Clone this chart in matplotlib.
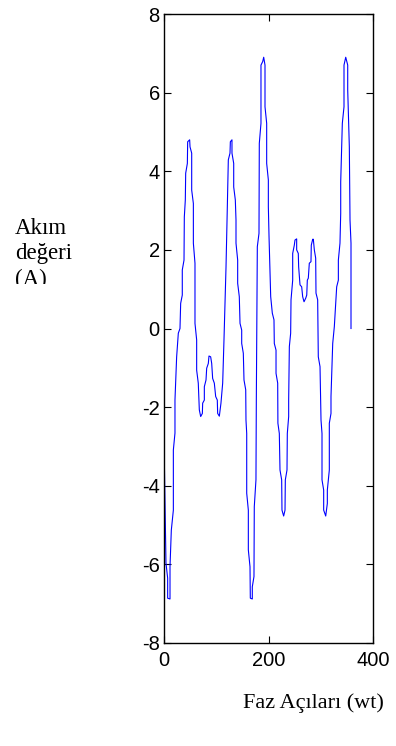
import matplotlib
matplotlib.use("Agg")
import matplotlib.pyplot as plt
from matplotlib.transforms import Bbox

plt.rcParams["axes.unicode_minus"] = False

# Phase angle (degrees) and current (A) samples of the waveform
phase = [
    0.0, 0.6, 3.8, 7.0, 7.0, 11.5, 11.5, 14.0, 17.9, 17.9, 21.0, 21.0, 24.2, 27.4, 30.6,
    31.9, 35.0, 35.0, 38.3, 38.9, 40.8, 41.5, 44.7, 45.3, 49.1, 49.8, 53.0, 53.0, 56.2,
    56.2, 59.3, 59.3, 62.5, 62.5, 65.6, 67.6, 70.2, 73.4, 74.0, 77.2, 77.2, 80.4, 81.7,
    84.8, 86.1, 89.3, 91.3, 93.1, 96.3, 98.9, 102.0, 102.7, 105.9, 109.0, 112.3, 114.8,
    116.7, 118.7, 120.6, 121.2, 123.1, 126.3, 127.0, 130.1, 130.1, 133.4, 133.4, 136.5,
    137.8, 137.8, 141.0, 141.0, 144.1, 145.5, 148.7, 148.7, 151.8, 153.1, 156.4, 156.9,
    158.3, 158.3, 161.4, 161.4, 164.6, 165.2, 169.0, 169.0, 172.2, 172.8, 176.0, 176.7,
    178.6, 181.8, 182.4, 185.6, 185.6, 188.9, 190.8, 193.3, 193.3, 196.5, 196.5, 199.7,
    199.7, 201.0, 204.2, 207.3, 210.5, 211.1, 214.4, 214.4, 217.6, 218.0, 220.7, 222.0,
    225.2, 225.8, 229.0, 231.6, 232.2, 235.4, 236.0, 238.6, 238.6, 239.9, 242.4, 243.1,
    246.3, 246.3, 249.4, 250.7, 253.9, 253.9, 257.0, 257.7, 260.3, 263.5, 265.4, 268.0,
    271.2, 273.2, 274.3, 276.2, 278.1, 281.3, 281.9, 284.6, 285.8, 287.7, 290.3, 290.9,
    294.1, 295.3, 298.6, 300.5, 302.4, 302.4, 305.6, 305.6, 309.5, 312.6, 312.6, 316.4,
    316.4, 319.6, 319.6, 322.9, 326.0, 327.3, 330.5, 333.7, 333.7, 336.8, 338.2, 338.2,
    341.3, 344.5, 344.5, 347.8, 351.6, 351.6, 354.7, 356.0, 357.9, 357.9,
]
current = [
    0.00, -3.35, -5.97, -6.35, -6.86, -6.88, -6.06, -5.13, -4.62, -3.09, -2.66, -1.82,
    -0.72, -0.12, 0.00, 0.64, 0.85, 1.49, 1.74, 2.84, 3.27, 3.95, 4.20, 4.75, 4.80, 4.62,
    4.46, 3.52, 3.18, 2.17, 1.66, 0.13, -0.29, -1.06, -1.39, -2.07, -2.24, -2.16, -1.90,
    -1.82, -1.48, -1.31, -1.01, -0.89, -0.70, -0.72, -0.89, -1.27, -1.39, -1.73, -1.82,
    -2.16, -2.23, -1.90, -1.39, -0.29, 0.64, 1.57, 2.84, 3.10, 4.29, 4.46, 4.75, 4.80,
    4.46, 4.20, 3.60, 3.27, 2.76, 2.17, 1.74, 1.15, 0.81, 0.13, -0.04, -0.38, -0.63,
    -1.31, -1.56, -2.33, -2.67, -4.19, -4.62, -5.63, -6.06, -6.86, -6.88, -6.57, -6.31,
    -4.53, -3.85, -1.82, 2.08, 2.42, 4.71, 5.22, 6.70, 6.79, 6.90, 6.70, 5.64, 5.22,
    4.20, 3.78, 3.10, 2.34, 0.81, 0.39, 0.22, -0.38, -0.55, -1.14, -1.39, -2.41, -2.67,
    -3.60, -3.85, -4.62, -4.77, -4.62, -3.85, -3.60, -2.67, -2.24, -1.82, -0.46, -0.12,
    0.73, 1.23, 1.91, 2.12, 2.25, 2.28, 2.00, 1.91, 1.57, 1.11, 1.06, 0.81, 0.68, 0.77,
    0.85, 1.23, 1.28, 1.66, 1.70, 2.12, 2.27, 2.27, 2.00, 1.79, 0.90, 0.73, -0.72, -0.97,
    -2.33, -2.67, -3.85, -4.11, -4.62, -4.77, -4.45, -4.11, -3.60, -2.41, -2.16, -1.73,
    -0.38, 0.05, 0.34, 1.06, 1.23, 1.74, 2.17, 2.93, 3.73, 5.22, 5.64, 6.70, 6.90, 6.70,
    6.07, 4.62, 2.76, 2.17, 0.00,
]

x_ticks = [0, 200, 400]
y_ticks = [-8, -6, -4, -2, 0, 2, 4, 6, 8]
x_label = "Faz Açıları (wt)"
y_label_lines = ["Akım", "değeri", "(A)"]

W, H = 396, 746
fig = plt.figure(figsize=(W / 100, H / 100), dpi=100)
ax = fig.add_axes([164 / W, 1 - 643 / H, 209 / W, 629 / H])

ax.plot(phase, current, color="#0000ff", linewidth=0.8)

ax.set_xlim(0, 400)
ax.set_ylim(-8, 8)
ax.set_xticks(x_ticks)
ax.set_yticks(y_ticks)
ax.tick_params(direction="in", length=5, width=0.8, top=True, right=True,
               labelsize=14.5)
ax.tick_params(axis="x", pad=6)
ax.tick_params(axis="y", pad=3)
for lbl in ax.get_xticklabels() + ax.get_yticklabels():
    lbl.set_fontfamily("Liberation Sans")
for sp in ax.spines.values():
    sp.set_linewidth(1.0)
    sp.set_color("black")

serif = "Liberation Serif"
fig.text(243 / W, 1 - 708 / H, x_label, fontsize=16, family=serif,
         ha="left", va="baseline")

# y label drawn line by line; the block is cut off below the third line
clip = Bbox.from_extents(0, H - 284, 160, H)
for i, line in enumerate(y_label_lines):
    t = fig.text(15 / W, 1 - (234 + 25.5 * i) / H, line, fontsize=16.5,
                 family=serif, ha="left", va="baseline")
    t.set_clip_box(clip)
    t.set_clip_on(True)

fig.savefig("out.png", dpi=100)
